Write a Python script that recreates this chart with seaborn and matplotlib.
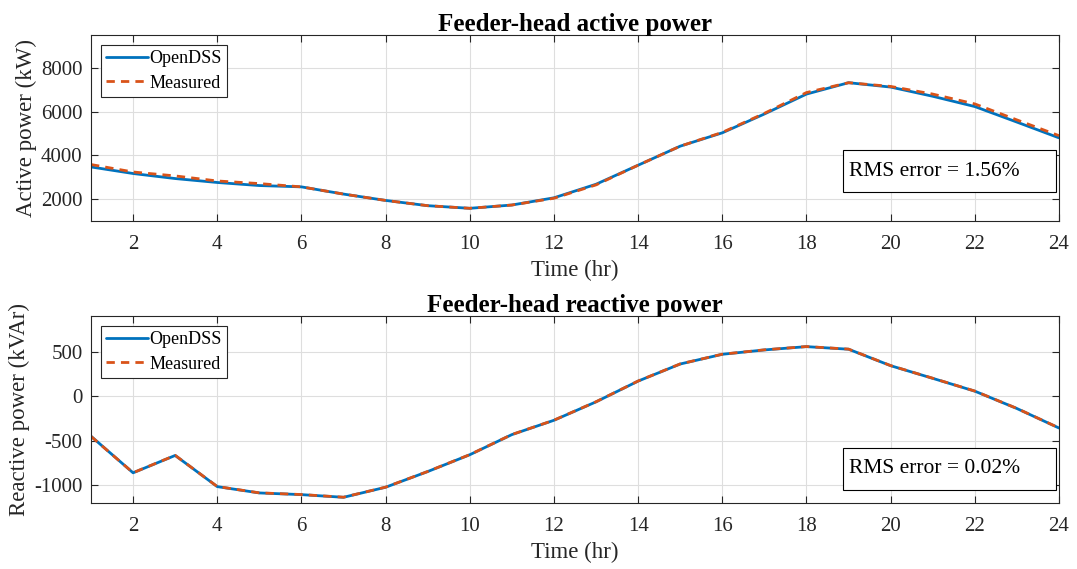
import matplotlib
matplotlib.use('Agg')
import matplotlib.pyplot as plt
from matplotlib.patches import Rectangle
import pandas as pd
import seaborn as sns

hours = list(range(1, 25))
p_opendss = [3470, 3170, 2940, 2760, 2620, 2560, 2230, 1940, 1700, 1580, 1730, 2060,
             2680, 3550, 4420, 5030, 5890, 6800, 7320, 7120, 6700, 6230, 5520, 4800]
p_measured = [3580, 3240, 3060, 2830, 2710, 2560, 2230, 1940, 1700, 1580, 1730, 2040,
              2650, 3550, 4420, 5050, 5920, 6870, 7320, 7150, 6800, 6350, 5620, 4900]
q_opendss = [-450, -861, -666, -1016, -1087, -1106, -1136, -1023, -847, -658, -432, -271,
             -64, 169, 361, 470, 519, 556, 527, 342, 200, 56, -139, -358]
q_measured = [-452, -860, -665, -1015, -1086, -1105, -1135, -1022, -846, -657, -431, -270,
              -63, 170, 362, 471, 520, 557, 528, 343, 201, 57, -138, -357]

sns.set_style('ticks')
plt.rcParams['font.family'] = ['Liberation Serif', 'DejaVu Serif']
plt.rcParams['axes.unicode_minus'] = False

blue = '#0072BD'
orange = '#D95319'

fig = plt.figure(figsize=(10.77, 5.69), dpi=100)
ax1 = fig.add_axes([91 / 1077, 1 - 221 / 569, 968 / 1077, 186 / 569])
ax2 = fig.add_axes([91 / 1077, 1 - 503 / 569, 968 / 1077, 187 / 569])

panels = [
    (ax1, p_opendss, p_measured, 'Feeder-head active power', 'Active power (kW)',
     (1000, 9500), [2000, 4000, 6000, 8000], 'RMS error = 1.56%', 0.156),
    (ax2, q_opendss, q_measured, 'Feeder-head reactive power', 'Reactive power (kVAr)',
     (-1200, 900), [-1000, -500, 0, 500], 'RMS error = 0.02%', 0.07),
]

for ax, sim, meas, title, ylabel, ylim, yticks, rms, box_y in panels:
    df = pd.DataFrame({'hour': hours, 'OpenDSS': sim, 'Measured': meas})
    sns.lineplot(data=df, x='hour', y='OpenDSS', ax=ax, color=blue, lw=2, label='OpenDSS')
    sns.lineplot(data=df, x='hour', y='Measured', ax=ax, color=orange, lw=2,
                 linestyle=(0, (3, 2.2)), label='Measured')
    ax.set_xlim(1, 24)
    ax.set_ylim(*ylim)
    ax.set_xticks(range(2, 25, 2))
    ax.set_yticks(yticks)
    ax.grid(True, color='#dedede', lw=0.8)
    ax.set_axisbelow(True)
    ax.tick_params(direction='in', top=True, right=True, labelsize=15, length=5,
                   color='#262626', labelcolor='#262626')
    ax.tick_params(axis='x', pad=10)
    ax.tick_params(axis='y', pad=6)
    for s in ax.spines.values():
        s.set_color('#262626')
        s.set_linewidth(0.8)
    ax.set_title(title, fontsize=18, fontweight='bold', pad=3, color='black')
    ax.set_xlabel('Time (hr)', fontsize=16.5, color='#262626', labelpad=4)
    ax.set_ylabel(ylabel, fontsize=16.5, color='#262626', labelpad=3)
    leg = ax.legend(loc='upper left', fontsize=13, frameon=True, fancybox=False,
                    edgecolor='#262626', framealpha=1, handlelength=2.3,
                    handletextpad=0.1, borderpad=0.3, labelspacing=0.4,
                    borderaxespad=0.55)
    leg.get_frame().set_linewidth(0.8)
    for t in leg.get_texts():
        t.set_color('black')
    ax.add_patch(Rectangle((0.777, box_y), 0.22, 0.224, transform=ax.transAxes,
                           fill=True, facecolor='white', edgecolor='black', lw=0.8, zorder=5))
    ax.text(0.783, box_y + 0.112, rms, transform=ax.transAxes, fontsize=15.5,
            va='center', ha='left', zorder=6, color='black')

fig.savefig('out.png', dpi=100)
